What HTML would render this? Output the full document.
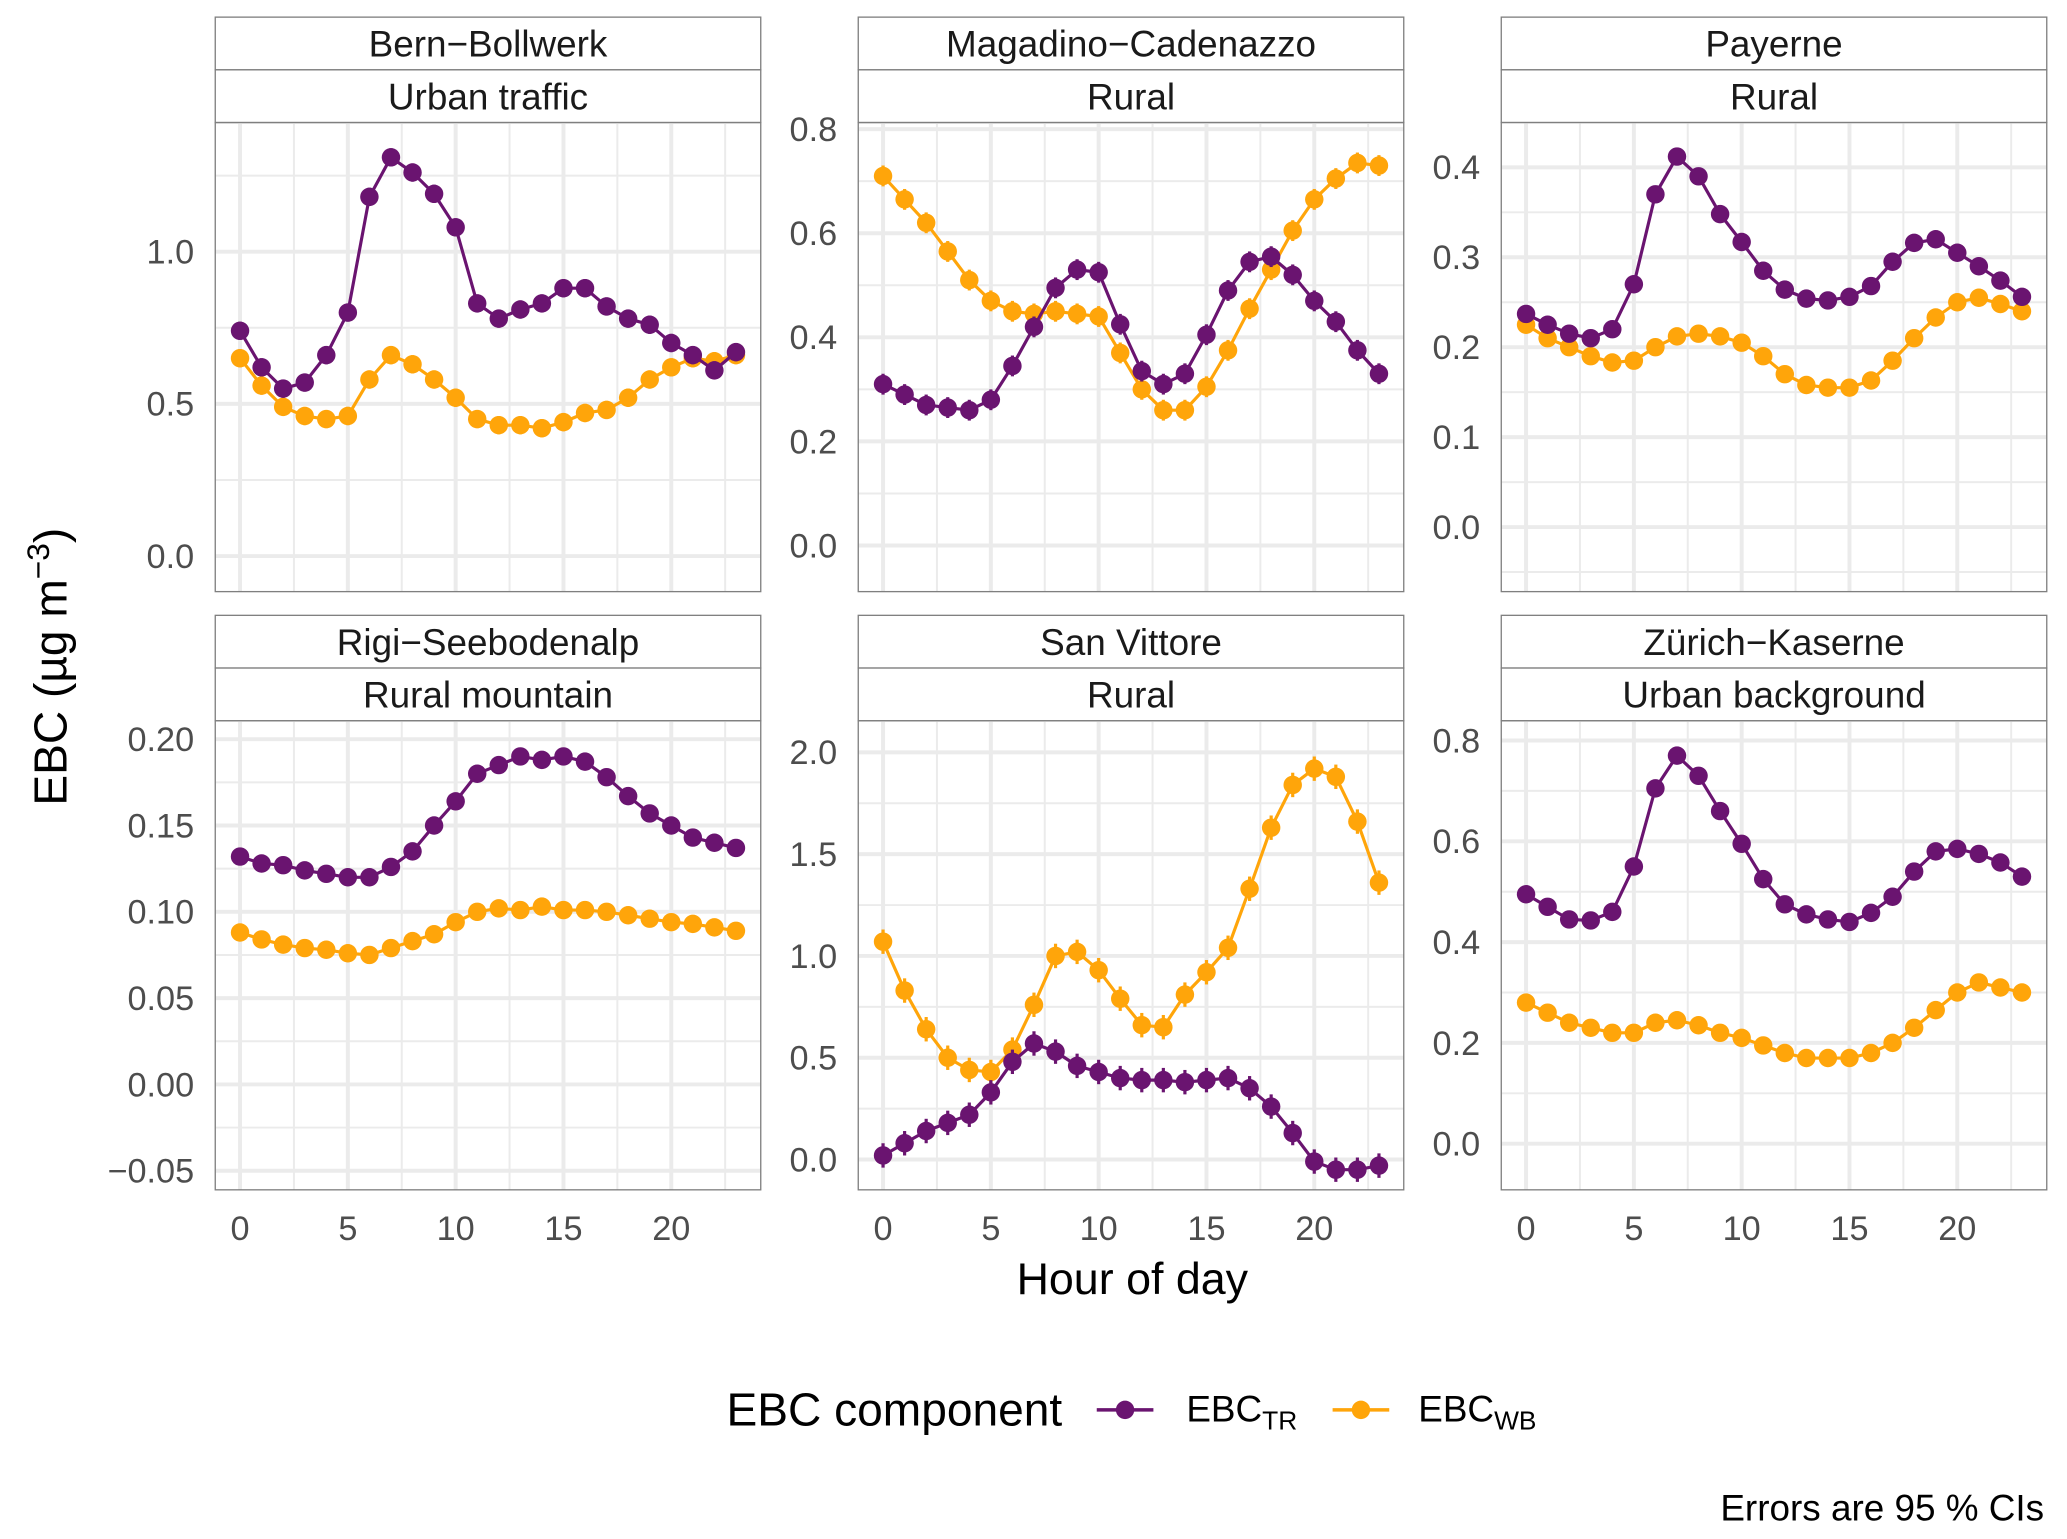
<!DOCTYPE html>
<html><head><meta charset="utf-8"><style>
html,body{margin:0;padding:0;background:#fff}
svg{display:block;font-family:"Liberation Sans",sans-serif}
</style></head><body>
<svg id="chart" width="2067" height="1539" viewBox="0 0 1568 1168" xmlns="http://www.w3.org/2000/svg"></svg>
<script>
const hours = Array.from({length:24},(_,i)=>i);
const stations = ["Bern\u2212Bollwerk","Magadino\u2212Cadenazzo","Payerne","Rigi\u2212Seebodenalp","San Vittore","Z\u00fcrich\u2212Kaserne"];
const siteTypes = ["Urban traffic","Rural","Rural","Rural mountain","Rural","Urban background"];
const trBern = [0.74,0.62,0.55,0.57,0.66,0.80,1.18,1.31,1.26,1.19,1.08,0.83,0.78,0.81,0.83,0.88,0.88,0.82,0.78,0.76,0.70,0.66,0.61,0.67];
const wbBern = [0.65,0.56,0.49,0.46,0.45,0.46,0.58,0.66,0.63,0.58,0.52,0.45,0.43,0.43,0.42,0.44,0.47,0.48,0.52,0.58,0.62,0.65,0.64,0.66];
const trMag = [0.31,0.29,0.27,0.265,0.26,0.28,0.345,0.42,0.495,0.53,0.525,0.425,0.335,0.31,0.33,0.405,0.49,0.545,0.555,0.52,0.47,0.43,0.375,0.33];
const wbMag = [0.71,0.665,0.62,0.565,0.51,0.47,0.45,0.445,0.45,0.445,0.44,0.37,0.30,0.26,0.26,0.305,0.375,0.455,0.53,0.605,0.665,0.705,0.735,0.73];
const trPay = [0.237,0.225,0.215,0.21,0.22,0.27,0.37,0.412,0.39,0.348,0.317,0.285,0.264,0.254,0.252,0.256,0.268,0.295,0.316,0.32,0.305,0.29,0.274,0.256];
const wbPay = [0.225,0.21,0.2,0.19,0.183,0.185,0.2,0.212,0.215,0.212,0.205,0.19,0.17,0.158,0.155,0.155,0.163,0.185,0.21,0.233,0.25,0.255,0.248,0.24];
const trRigi = [0.132,0.128,0.127,0.124,0.122,0.12,0.12,0.126,0.135,0.15,0.164,0.18,0.185,0.19,0.188,0.19,0.187,0.178,0.167,0.157,0.15,0.143,0.14,0.137];
const wbRigi = [0.088,0.084,0.081,0.079,0.078,0.076,0.075,0.079,0.083,0.087,0.094,0.1,0.102,0.101,0.103,0.101,0.101,0.1,0.098,0.096,0.094,0.093,0.091,0.089];
const trSV = [0.02,0.08,0.14,0.18,0.22,0.33,0.48,0.57,0.53,0.46,0.43,0.40,0.39,0.39,0.38,0.39,0.40,0.35,0.26,0.13,-0.01,-0.05,-0.05,-0.03];
const wbSV = [1.07,0.83,0.64,0.50,0.44,0.43,0.54,0.76,1.0,1.02,0.93,0.79,0.66,0.65,0.81,0.92,1.04,1.33,1.63,1.84,1.92,1.88,1.66,1.36];
const trZur = [0.495,0.47,0.445,0.443,0.46,0.55,0.705,0.77,0.73,0.66,0.595,0.525,0.475,0.455,0.445,0.44,0.458,0.49,0.54,0.58,0.585,0.575,0.558,0.53];
const wbZur = [0.28,0.26,0.24,0.23,0.22,0.22,0.24,0.245,0.235,0.22,0.21,0.195,0.18,0.17,0.17,0.17,0.18,0.2,0.23,0.265,0.3,0.32,0.31,0.3];
const ciHalf = [0.03,0.02,0.008,0.004,0.06,0.015];
const yTicks = [[0,0.5,1.0],[0,0.2,0.4,0.6,0.8],[0,0.1,0.2,0.3,0.4],[-0.05,0,0.05,0.1,0.15,0.2],[0,0.5,1.0,1.5,2.0],[0,0.2,0.4,0.6,0.8]];
const yTickLabels = [["0.0","0.5","1.0"],["0.0","0.2","0.4","0.6","0.8"],["0.0","0.1","0.2","0.3","0.4"],["\u22120.05","0.00","0.05","0.10","0.15","0.20"],["0.0","0.5","1.0","1.5","2.0"],["0.0","0.2","0.4","0.6","0.8"]];
const xTicks = [0,5,10,15,20];
const trSeries = [trBern,trMag,trPay,trRigi,trSV,trZur];
const wbSeries = [wbBern,wbMag,wbPay,wbRigi,wbSV,wbZur];

const NS="http://www.w3.org/2000/svg";
const svg=document.getElementById('chart');
function mk(tag,attrs,parent){const e=document.createElementNS(NS,tag);for(const k in attrs)e.setAttribute(k,attrs[k]);(parent||svg).appendChild(e);return e;}
const PURPLE="#6a1470", ORANGE="#ffa50a";
const colX=[163,651,1139], PW=414;
const rowY=[93,547], PH=356;
const yMap=[[0,422,1,191],[0,414,0.8,98],[0,400,0.4,127],[0,823,0.2,561],[0,880,2,571],[0,868,0.8,562]];
for(let p=0;p<6;p++){
  const c=p%3,r=Math.floor(p/3);
  const x0=colX[c], y0=rowY[r];
  const xs=h=>x0+PW*(h+1.15)/25.3;
  const m=yMap[p];
  const ys=v=>m[1]+(v-m[0])*(m[3]-m[1])/(m[2]-m[0]);
  const g=mk('g',{});
  
  
  const s1=mk('rect',{x:x0,y:y0-80,width:PW,height:40,fill:'#fff',stroke:'#7f7f7f','stroke-width':1},g);
  
  const s2=mk('rect',{x:x0,y:y0-40,width:PW,height:40,fill:'#fff',stroke:'#7f7f7f','stroke-width':1},g);
  
  const t1=mk('text',{x:x0+PW/2,y:y0-50,'text-anchor':'middle','font-size':28,fill:'#1a1a1a'},g);t1.textContent=stations[p];
  
  const t2=mk('text',{x:x0+PW/2,y:y0-10,'text-anchor':'middle','font-size':28,fill:'#1a1a1a'},g);t2.textContent=siteTypes[p];
  
  const clip='c'+p;
  const cp=mk('clipPath',{id:clip},g);mk('rect',{x:x0,y:y0,width:PW,height:PH},cp);
  const gg=mk('g',{'clip-path':'url(#'+clip+')'},g);
  const tk=yTicks[p], step=tk[1]-tk[0];
  for(let v=tk[0]-2*step; v<=tk[tk.length-1]+2*step+1e-9; v+=step/2){
    const major=Math.abs(Math.round((v-tk[0])/step)-(v-tk[0])/step)<1e-6;
    mk('line',{x1:x0,x2:x0+PW,y1:ys(v),y2:ys(v),stroke:'#ebebeb','stroke-width':major?3:1.5},gg);
  }
  for(let h=-2.5;h<=25;h+=2.5){
    const major=Math.abs(h%5)<1e-6;
    mk('line',{x1:xs(h),x2:xs(h),y1:y0,y2:y0+PH,stroke:'#ebebeb','stroke-width':major?3:1.5},gg);
  }
  mk('rect',{x:x0,y:y0,width:PW,height:PH,fill:'none',stroke:'#7f7f7f','stroke-width':1},g);
  tk.forEach((v,i)=>{const t=mk('text',{x:x0-16,y:ys(v)+9,'text-anchor':'end','font-size':26,fill:'#4d4d4d'},g);t.textContent=yTickLabels[p][i];
    });
  if(r===1) xTicks.forEach(h=>{const t=mk('text',{x:xs(h),y:y0+PH+38,'text-anchor':'middle','font-size':26,fill:'#4d4d4d'},g);t.textContent=h;
    });
  [[wbSeries[p],ORANGE,'wb'],[trSeries[p],PURPLE,'tr']].forEach(([arr,col,nm])=>{
    const sg=mk('g',{},gg);
    
    const pl=mk('polyline',{points:arr.map((v,i)=>xs(hours[i])+','+ys(v)).join(' '),fill:'none',stroke:col,'stroke-width':2.4,'stroke-linejoin':'round'},sg);
    
    arr.forEach((v,i)=>{
      const e=mk('line',{x1:xs(hours[i]),x2:xs(hours[i]),y1:ys(v-ciHalf[p]),y2:ys(v+ciHalf[p]),stroke:col,'stroke-width':2.4},sg);
      
      const pt=mk('circle',{cx:xs(hours[i]),cy:ys(v),r:7,fill:col},sg);
      
    });
  });
}
const xt=mk('text',{x:859,y:982,'text-anchor':'middle','font-size':34,fill:'#000'});xt.textContent='Hour of day';

const yt=mk('text',{x:0,y:0,'text-anchor':'middle','font-size':35,fill:'#000',transform:'translate(50,506) rotate(-90)'});
yt.innerHTML='EBC (\u00b5g m<tspan dy="-13" font-size="24">\u22123</tspan><tspan dy="13">)</tspan>';

const lg=mk('g',{});
const lt=mk('text',{x:551,y:1082,'font-size':35,fill:'#000'},lg);lt.textContent='EBC component';

[[832,PURPLE,900,'TR'],[1011,ORANGE,1076,'WB']].forEach(([x,c,tx,sub])=>{
  const k=mk('g',{},lg);
  mk('line',{x1:x,x2:x+43,y1:1070,y2:1070,stroke:c,'stroke-width':2.6},k);
  mk('circle',{cx:x+21.5,cy:1070,r:7,fill:c},k);
  const t=mk('text',{x:tx,y:1079,'font-size':28,fill:'#000'},k);
  t.innerHTML='EBC<tspan dy="6" font-size="20">'+sub+'</tspan>';
});
const cap=mk('text',{x:1551,y:1154,'text-anchor':'end','font-size':28,fill:'#000'});cap.textContent='Errors are 95 % CIs';

</script>
</body></html>
